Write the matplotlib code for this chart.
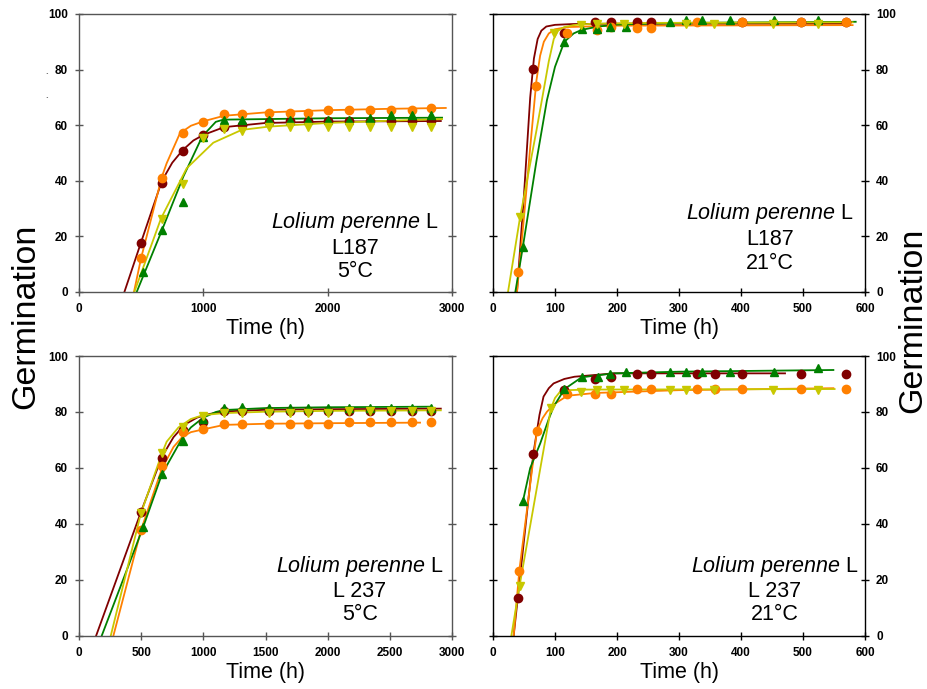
import numpy as np
import matplotlib
matplotlib.use("Agg")
import matplotlib.pyplot as plt

plt.rcParams['font.family'] = ['Liberation Sans', 'DejaVu Sans']

# ---- top left: L187, 5 C (markers) ----
tl_t = [500, 667, 833, 1000, 1167, 1310, 1530, 1695, 1840, 2005, 2175, 2340, 2510, 2680, 2830]
tl_red = [17.7, 39.1, 50.7, 56.5, 59.4, 60.2, 61.2, 61.4, 61.4, 61.4, 61.4, 61.4, 61.4, 61.4, 61.4]
tl_orange = [12.3, 41.1, 57.1, 61.2, 64.1, 64.1, 64.4, 64.4, 64.4, 65.3, 65.3, 65.3, 65.3, 65.3, 66.2]
tl_green_t = [517, 667, 833, 1000, 1167, 1310, 1530, 1695, 1840, 2005, 2175, 2340, 2510, 2680, 2830]
tl_green = [7.3, 22.3, 32.3, 55.9, 61.7, 61.7, 61.7, 61.7, 61.7, 61.7, 61.7, 62.7, 63.5, 63.5, 63.5]
tl_yellow_t = [667, 833, 1000, 1167, 1310, 1530, 1695, 1840, 2005, 2175, 2340, 2510, 2680, 2830]
tl_yellow = [26.3, 38.7, 55.3, 58.5, 58.0, 59.5, 59.5, 59.5, 59.5, 59.5, 59.5, 59.5, 59.5, 59.5]
# fitted curves
tl_red_fx = [365, 500, 667, 750, 833, 920, 1000, 1167, 1500, 2000, 2910]
tl_red_fy = [0, 18, 40, 46.5, 51, 54.5, 56.5, 59.3, 60.8, 61.3, 61.5]
tl_orange_fx = [442, 500, 667, 705, 812, 900, 1000, 1167, 1500, 2000, 2500, 2950]
tl_orange_fy = [0, 12.3, 41.5, 46.3, 57.1, 59.8, 61.4, 63.4, 64.6, 65.4, 65.9, 66.2]
tl_green_fx = [464, 665, 839, 992, 1100, 1161, 2000, 2920]
tl_green_fy = [0, 22, 41.5, 56, 61.2, 62, 62.5, 62.7]
tl_yellow_fx = [445, 660, 866, 1080, 1308, 1528, 2000, 2500, 2920]
tl_yellow_fy = [0, 26.5, 44.5, 53.7, 58.3, 59.5, 60.8, 61.6, 62.2]

# ---- top right: L187, 21 C ----
tr_red_t = [64, 114, 165, 190, 232, 255, 402, 497, 569]
tr_red = [80.2, 93.0, 97, 97, 97, 97, 97, 97, 97]
tr_orange_t = [41, 69, 120, 167, 190, 232, 255, 329, 402, 497, 569]
tr_orange = [7.2, 74.2, 93.0, 94.1, 95.2, 95, 95, 97, 97, 97, 97]
tr_green_t = [48, 115, 143, 168, 189, 214, 286, 311, 337, 383, 454, 524]
tr_green = [16.3, 90.0, 94.5, 94.5, 95.2, 95.2, 97.0, 98.0, 97.8, 97.8, 97.8, 97.8]
tr_yellow_t = [43, 99, 142, 168, 212, 311, 357, 452, 524]
tr_yellow = [27.1, 93.0, 95.9, 96.5, 96.5, 96.5, 96.5, 96.5, 96.5]
tr_red_fx = [38.7, 50, 60, 66, 72, 78, 86, 100, 130, 200, 575]
tr_red_fy = [0, 35, 70, 84, 91, 94, 95.5, 96.1, 96.4, 96.5, 96.5]
tr_orange_fx = [38.7, 50, 60, 70, 76, 82, 90, 100, 120, 200, 580]
tr_orange_fy = [0, 27, 52, 76, 85, 90, 93, 94.5, 95.3, 95.8, 96.0]
tr_green_fx = [36, 48, 70, 87, 100, 115, 130, 143, 170, 200, 300, 585]
tr_green_fy = [0, 16, 47, 69, 81, 90, 93, 94.3, 95.5, 96.2, 96.8, 97.2]
tr_yellow_fx = [24.2, 43, 70, 90, 98, 105, 115, 130, 160, 250, 580]
tr_yellow_fy = [0, 26, 58, 83, 91, 94, 95.3, 96, 96.5, 96.8, 97.0]

# ---- bottom left: L 237, 5 C ----
bl_t = [500, 667, 833, 1000, 1167, 1310, 1530, 1695, 1840, 2005, 2175, 2340, 2510, 2680, 2830]
bl_red = [44.4, 63.5, 73.6, 76.3, 80.5, 80.5, 80.5, 80.5, 80.5, 80.5, 80.5, 80.5, 80.5, 80.5, 80.5]
bl_orange = [37.9, 60.8, 72.7, 73.8, 75.6, 75.6, 75.6, 75.6, 75.6, 75.6, 76.5, 76.5, 76.5, 76.5, 76.5]
bl_green_t = [517, 667, 833, 1000, 1167, 1310, 1530, 1695, 1840, 2005, 2175, 2340, 2510, 2680, 2830]
bl_green = [39.0, 57.7, 69.6, 77.5, 81.5, 81.8, 81.5, 81.5, 81.5, 81.5, 81.5, 81.5, 81.5, 81.5, 81.5]
bl_yellow = [43.8, 65.2, 74.8, 78.7, 79.5, 79.5, 79.8, 79.8, 79.8, 79.8, 80.5, 80.5, 80.5, 80.5, 80.5]
bl_red_fx = [137, 500, 667, 760, 850, 950, 1050, 1167, 1500, 2000, 2910]
bl_red_fy = [0, 44.5, 64, 71, 75.5, 78, 79.3, 80.2, 80.8, 81, 81.2]
bl_orange_fx = [276, 500, 667, 760, 833, 900, 1000, 1167, 1500, 2000, 2743]
bl_orange_fy = [0, 38, 59.8, 67.5, 71.2, 72.8, 73.8, 75.4, 75.8, 76, 76.2]
bl_green_fx = [182, 517, 667, 831, 900, 1000, 1100, 1167, 1500, 2000, 2837]
bl_green_fy = [0, 39, 57.8, 70.7, 74.5, 78, 80, 80.7, 81.4, 81.7, 81.9]
bl_yellow_fx = [255, 496, 667, 705, 800, 900, 1000, 1167, 1500, 2000, 2910]
bl_yellow_fy = [0, 43.5, 65.2, 69.4, 74.5, 77.5, 78.9, 79.6, 80.1, 80.4, 80.6]

# ---- bottom right: L 237, 21 C ----
br_red_t = [40, 65, 115, 165, 190, 232, 255, 329, 358, 402, 497, 569]
br_red = [13.7, 65, 87.9, 91.8, 92.6, 93.7, 93.7, 93.7, 93.7, 93.7, 93.7, 93.7]
br_orange_t = [42, 71, 120, 165, 190, 232, 255, 329, 358, 402, 497, 569]
br_orange = [23.3, 73.3, 86.3, 86.3, 86.3, 88.2, 88.2, 88.2, 88.2, 88.2, 88.2, 88.2]
br_green_t = [48, 115, 143, 170, 189, 214, 286, 311, 337, 383, 454, 524]
br_green = [48.2, 88.2, 92.4, 92.4, 93.5, 94.4, 94.4, 94.4, 94.4, 94.4, 94.4, 95.6]
br_yellow_t = [43, 93, 142, 168, 189, 212, 286, 311, 357, 452, 524]
br_yellow = [18, 81.3, 87.3, 87.9, 87.9, 87.9, 87.9, 87.9, 87.9, 87.9, 87.9]
br_red_fx = [33.3, 40, 65, 75, 81.5, 90, 97.7, 115, 131.5, 195, 471]
br_red_fy = [0, 13.7, 65, 79, 85.5, 88.5, 90.2, 91.8, 92.6, 93.8, 93.8]
br_orange_fx = [33.3, 42.4, 70.9, 80, 87, 100, 120, 165, 300, 549]
br_orange_fy = [0, 23.3, 73.3, 77.8, 80.1, 83, 85.8, 86.8, 87.8, 88.5]
br_green_fx = [48.3, 60, 76.2, 90, 97.7, 115.4, 143, 195, 300, 549]
br_green_fy = [48.2, 60, 68.8, 77.5, 81.9, 88.2, 92.4, 93.8, 94.4, 95]
br_yellow_fx = [29.5, 42.9, 93.4, 100, 108.4, 120, 150, 551]
br_yellow_fy = [0, 18, 81.3, 85, 87.3, 87.8, 88, 88.2]

RED, ORANGE, GREEN, YELLOW = '#800000', '#FF8000', '#008000', '#C8C800'

W, H = 927, 689
fig = plt.figure(figsize=(W / 100, H / 100), dpi=100)


def make_ax(x0, x1, y0, y1):
    return fig.add_axes([x0 / W, 1 - y1 / H, (x1 - x0) / W, (y1 - y0) / H])


def draw(ax, series, xmax, xticks, right, lines3):
    for fx, fy, mx, my, col, mk in series:
        ax.plot(fx, fy, color=col, lw=1.3, zorder=2)
        ax.plot(mx, my, ls='none', marker=mk, color=col, ms=6, zorder=3)
    ax.set_xlim(0, xmax)
    ax.set_ylim(0, 100)
    ax.set_xticks(xticks)
    ax.set_yticks(range(0, 101, 20))
    spc = 'black' if right else '#555555'
    for s in ax.spines.values():
        s.set_color(spc)
        s.set_linewidth(1.0)
    ax.tick_params(direction='inout', length=6, width=1, color=spc,
                   labelsize=8.5, pad=5, left=True, right=True,
                   labelleft=not right, labelright=right)
    for lab in ax.get_xticklabels() + ax.get_yticklabels():
        lab.set_fontweight('bold')
    ax.set_xlabel('Time (h)', fontsize=15.5, labelpad=2)
    xc = lines3[0]
    ax.text(xc, lines3[1], r'$\it{Lolium\ perenne}$' + ' L', transform=ax.transAxes,
            ha='center', va='center', fontsize=15.5)
    ax.text(xc, lines3[2], lines3[4], transform=ax.transAxes, ha='center', va='center', fontsize=15.5)
    ax.text(xc, lines3[3], lines3[5], transform=ax.transAxes, ha='center', va='center', fontsize=15.5)


plt.rcParams['mathtext.fontset'] = 'custom'
plt.rcParams['mathtext.it'] = 'Liberation Sans:italic'
plt.rcParams['mathtext.rm'] = 'Liberation Sans'

ax1 = make_ax(79, 452, 14, 292)
draw(ax1, [
    (tl_red_fx, tl_red_fy, tl_t, tl_red, RED, 'o'),
    (tl_orange_fx, tl_orange_fy, tl_t, tl_orange, ORANGE, 'o'),
    (tl_green_fx, tl_green_fy, tl_green_t, tl_green, GREEN, '^'),
    (tl_yellow_fx, tl_yellow_fy, tl_yellow_t, tl_yellow, YELLOW, 'v'),
], 3000, [0, 1000, 2000, 3000], False, (0.74, 0.249, 0.157, 0.073, 'L187', '5°C'))

ax2 = make_ax(493, 865, 14, 292)
draw(ax2, [
    (tr_red_fx, tr_red_fy, tr_red_t, tr_red, RED, 'o'),
    (tr_orange_fx, tr_orange_fy, tr_orange_t, tr_orange, ORANGE, 'o'),
    (tr_green_fx, tr_green_fy, tr_green_t, tr_green, GREEN, '^'),
    (tr_yellow_fx, tr_yellow_fy, tr_yellow_t, tr_yellow, YELLOW, 'v'),
], 600, range(0, 601, 100), True, (0.744, 0.283, 0.190, 0.103, 'L187', '21°C'))

ax3 = make_ax(79, 452, 356, 636)
draw(ax3, [
    (bl_red_fx, bl_red_fy, bl_t, bl_red, RED, 'o'),
    (bl_orange_fx, bl_orange_fy, bl_t, bl_orange, ORANGE, 'o'),
    (bl_green_fx, bl_green_fy, bl_green_t, bl_green, GREEN, '^'),
    (bl_yellow_fx, bl_yellow_fy, bl_t, bl_yellow, YELLOW, 'v'),
], 3000, range(0, 3001, 500), False, (0.753, 0.2475, 0.158, 0.075, 'L 237', '5°C'))

ax4 = make_ax(493, 865, 356, 636)
draw(ax4, [
    (br_red_fx, br_red_fy, br_red_t, br_red, RED, 'o'),
    (br_orange_fx, br_orange_fy, br_orange_t, br_orange, ORANGE, 'o'),
    (br_green_fx, br_green_fy, br_green_t, br_green, GREEN, '^'),
    (br_yellow_fx, br_yellow_fy, br_yellow_t, br_yellow, YELLOW, 'v'),
], 600, range(0, 601, 100), True, (0.758, 0.2475, 0.158, 0.075, 'L 237', '21°C'))

fig.text(26 / W, 1 - 316 / H, 'Germination', rotation=90, fontsize=24.5, ha='center', va='center')
fig.text(913 / W, 1 - 320 / H, 'Germination', rotation=90, fontsize=24.5, ha='center', va='center')
fig.text(46.7 / W, 1 - 76 / H, '`', fontsize=6, ha='center', va='center')
fig.text(46.7 / W, 1 - 100 / H, '`', fontsize=6, ha='center', va='center')

fig.savefig('out.png', dpi=100)
